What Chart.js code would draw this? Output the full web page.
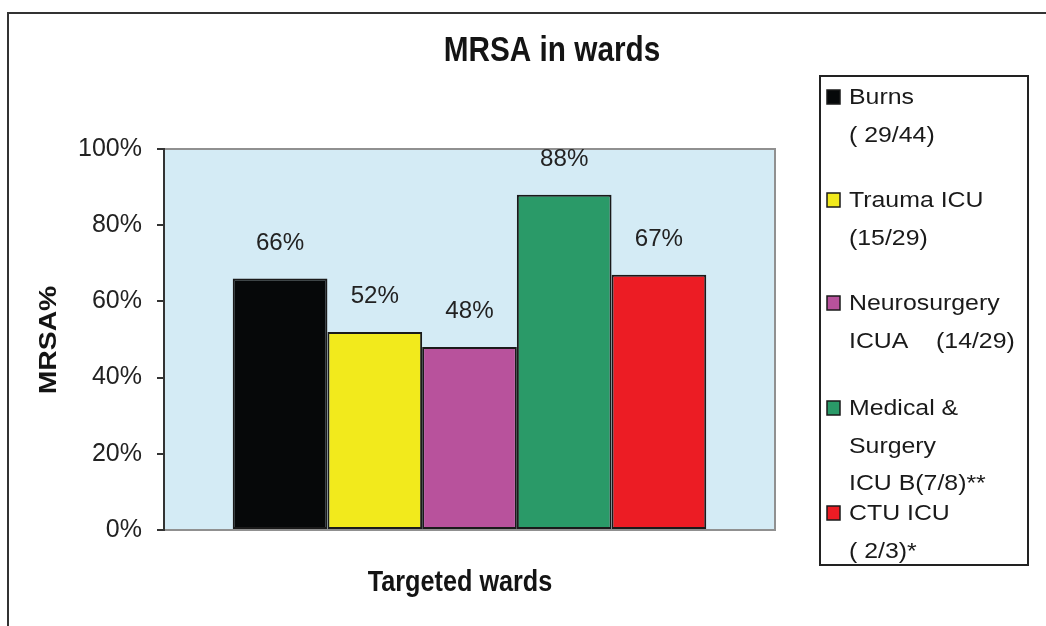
<!DOCTYPE html>
<html>
<head>
<meta charset="utf-8">
<script src="https://cdn.jsdelivr.net/npm/chart.js@4.4.1/dist/chart.umd.min.js"></script>
<style>
  html, body { margin: 0; padding: 0; background: #fff; }
  #wrap { position: relative; width: 1046px; height: 626px; }
  canvas { display: block; }
</style>
</head>
<body>
<div id="wrap"><canvas id="c" width="1046" height="626"></canvas></div>
<script>
// ---- data ----
const categories = ['Targeted wards'];
const seriesNames = ['Burns', 'Trauma ICU', 'Neurosurgery ICUA', 'Medical & Surgery ICU B', 'CTU ICU'];
const legendLines = [
  ['Burns', '( 29/44)'],
  ['Trauma ICU', '(15/29)'],
  ['Neurosurgery', 'ICUA    (14/29)'],
  ['Medical &', 'Surgery', 'ICU B(7/8)**'],
  ['CTU ICU', '( 2/3)*']
];
const values = [66, 52, 48, 88, 67];
const valueLabels = ['66%', '52%', '48%', '88%', '67%'];
const yTicks = [0, 20, 40, 60, 80, 100];
const colors = ['#060809', '#f2ea1c', '#b8529c', '#2a9a68', '#ec1c24'];

const FONT = "'Liberation Sans', Arial, sans-serif";

const datasets = values.map((v, i) => ({
  label: seriesNames[i],
  data: [v],
  backgroundColor: colors[i],
  borderColor: '#1a1a1a',
  borderWidth: 2,
  borderSkipped: false,
  barPercentage: 1.0,
  categoryPercentage: 0.775
}));

function drawText(ctx, text, x, y, font, sx, align) {
  ctx.save();
  ctx.translate(x, y);
  ctx.scale(sx, 1);
  ctx.font = font;
  ctx.textAlign = align;
  ctx.textBaseline = 'middle';
  ctx.fillText(text, 0, 0);
  ctx.restore();
}

const decor = {
  id: 'decor',
  beforeDraw(chart) {
    const { ctx, chartArea: a } = chart;
    ctx.save();
    ctx.strokeStyle = '#333';
    ctx.lineWidth = 2;
    ctx.beginPath();
    ctx.moveTo(8, 626); ctx.lineTo(8, 13); ctx.lineTo(1046, 13);
    ctx.stroke();
    ctx.fillStyle = '#d4ebf5';
    ctx.fillRect(a.left, a.top, a.right - a.left, a.bottom - a.top);
    ctx.strokeStyle = '#909090';
    ctx.lineWidth = 2;
    ctx.strokeRect(a.left, a.top, a.right - a.left, a.bottom - a.top);
    ctx.restore();
  },
  afterDraw(chart) {
    const { ctx } = chart;
    ctx.save();
    ctx.fillStyle = '#141414';
    drawText(ctx, 'MRSA in wards', 552, 51, 'bold 35px ' + FONT, 0.85, 'center');
    drawText(ctx, categories[0], 460, 583, 'bold 29px ' + FONT, 0.87, 'center');
    ctx.save();
    ctx.translate(49, 340);
    ctx.rotate(-Math.PI / 2);
    drawText(ctx, 'MRSA%', 0, 0, 'bold 24px ' + FONT, 1.18, 'center');
    ctx.restore();
    ctx.fillStyle = '#222';
    chart.data.datasets.forEach((ds, i) => {
      const el = chart.getDatasetMeta(i).data[0];
      drawText(ctx, valueLabels[i], el.x, el.y - 35, '23px ' + FONT, 1.05, 'center');
    });
    ctx.strokeStyle = '#222';
    ctx.lineWidth = 2;
    ctx.strokeRect(820, 76, 208, 489);
    const starts = [98, 201, 304, 409, 514];
    const lh = 37.5;
    legendLines.forEach((lines, i) => {
      const y0 = starts[i];
      ctx.fillStyle = colors[i];
      ctx.fillRect(827, y0 - 8, 13, 14);
      ctx.strokeStyle = '#1a1a1a';
      ctx.lineWidth = 1.5;
      ctx.strokeRect(827, y0 - 8, 13, 14);
      ctx.fillStyle = '#1a1a1a';
      lines.forEach((t, j) => drawText(ctx, t, 849, y0 + j * lh, '22px ' + FONT, 1.13, 'left'));
    });
    ctx.restore();
  }
};

new Chart(document.getElementById('c'), {
  type: 'bar',
  data: { labels: categories, datasets },
  plugins: [decor],
  options: {
    responsive: false,
    animation: false,
    layout: { padding: { left: 0, right: 271, top: 149, bottom: 96 } },
    plugins: { legend: { display: false }, tooltip: { enabled: false }, title: { display: false } },
    scales: {
      x: { display: false, grid: { display: false } },
      y: {
        min: 0, max: 100,
        afterBuildTicks(scale) { scale.ticks = yTicks.map(v => ({ value: v })); },
        afterFit(scale) { scale.width = 164; },
        ticks: {
          callback: v => v + '%',
          color: '#222',
          padding: 15,
          font: { family: FONT, size: 25 }
        },
        grid: { drawOnChartArea: false, tickLength: 7, color: '#333', lineWidth: 2 },
        border: { display: true, color: '#333', width: 2 }
      }
    }
  }
});
</script>
</body>
</html>
